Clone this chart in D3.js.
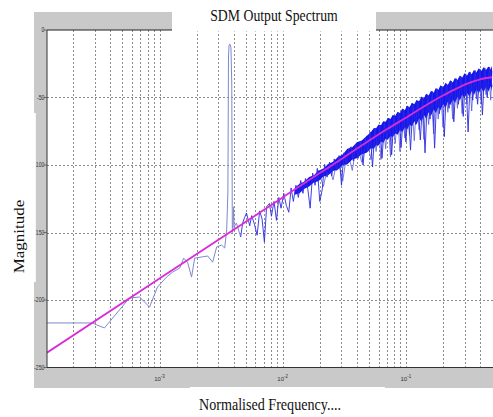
<!DOCTYPE html>
<html><head><meta charset="utf-8">
<script src="https://cdn.jsdelivr.net/npm/d3@7"></script>
<style>body{margin:0;background:#fff}svg{display:block}</style>
</head><body>
<script>
// ---------- data ----------
const yTickValues = [0, -50, -100, -150, -200, -250];
const xDecadeTicks = [1e-3, 1e-2, 1e-1];
const xDecadeExponents = ["-3", "-2", "-1"];

// sparse low-frequency part of the spectrum incl. the signal tone [f, dB]
const spectrumLow = [
  [1.22e-4,-217],[2.85e-4,-217],[3.1e-4,-218.5],[3.57e-4,-220.7],[5.7e-4,-198.5],
  [6.88e-4,-197.8],[8.3e-4,-205.2],[9.63e-4,-190.4],[1.14e-3,-183],[1.28e-3,-179.3],
  [1.46e-3,-176.3],[1.57e-3,-169],[1.69e-3,-172],[1.82e-3,-183],[1.93e-3,-169],
  [2.24e-3,-168],[2.46e-3,-167.4],[2.70e-3,-172],[2.91e-3,-160.7],[3.19e-3,-159.3],
  [3.38e-3,-161.5],[3.51e-3,-148],[3.59e-3,-120],[3.63e-3,-20],[3.67e-3,-11],
  [3.73e-3,-10.5],[3.80e-3,-13],[3.86e-3,-40],[3.90e-3,-150],[3.94e-3,-148],
  [3.99e-3,-131],[4.03e-3,-146],[4.21e-3,-143],[4.56e-3,-153.3]
];

// shaped-noise part of the spectrum [f, dB]
const spectrumNoise = [
  [0.00456,-153.3],[0.00473,-143],[0.0049,-139],[0.00508,-135.6],[0.0054,-145],
  [0.0056,-137.5],[0.0059,-144],[0.0062,-152],[0.0065,-134],[0.0068,-140],
  [0.0071,-157],[0.0074,-131],[0.0078,-128.5],[0.0081,-138],[0.0085,-127],
  [0.0089,-141],[0.0093,-124],[0.0097,-132],
  [0.0102,-121],[0.0107,-130],[0.0112,-135],[0.0117,-117],[0.0122,-127],
  [0.0128,-115],[0.0134,-124],[0.014,-111.5],[0.0146,-121],[0.0153,-110],
  [0.016,-118],[0.0167,-132],[0.0175,-106],[0.0183,-115],[0.0191,-102.5],
  [0.02,-127],[0.0209,-118.5],[0.0219,-99.5],[0.0229,-109],[0.024,-97.8],
  [0.025,-108],[0.0262,-95.5],[0.0274,-104],[0.0287,-93],[0.03,-115],
  [0.0314,-91],[0.0328,-99.5],[0.0343,-88.5],[0.0359,-86.5],[0.0375,-97],
  [0.0392,-84.5],[0.041,-95],[0.0429,-82.5],[0.0449,-100],[0.047,-80],[0.049,-90],
  [0.0513,-75.5],[0.0536,-101.5],[0.056,-73],[0.0586,-86],[0.0613,-71],
  [0.064,-95],[0.067,-69],[0.07,-81],[0.0733,-66.5],[0.0766,-92.5],[0.08,-64.5],
  [0.0837,-77],[0.0875,-61.5],[0.0915,-87],[0.0957,-59],[0.1,-83],
  [0.1046,-57],[0.109,-89],[0.114,-55.5],[0.12,-70],[0.125,-53],[0.131,-81.5],
  [0.137,-51],[0.143,-91],[0.15,-48],[0.157,-66],[0.164,-45.5],[0.171,-87.5],
  [0.179,-43.5],[0.187,-62],[0.196,-41.5],[0.205,-79],[0.214,-40],[0.224,-58],
  [0.234,-38],[0.245,-68],[0.256,-36],[0.267,-55],[0.28,-34.5],[0.292,-64],
  [0.306,-32.5],[0.32,-75.5],[0.334,-31.5],[0.349,-52],[0.365,-30],[0.382,-55],
  [0.4,-29],[0.418,-63],[0.437,-28],[0.457,-50],[0.478,-27.5],[0.5,-42]
];

// second interleaved set of noise spikes [f, dB]
const spectrumNoise2 = [
  [0.0195,-104],[0.0214,-116],[0.0234,-99.5],[0.0256,-111],[0.028,-94.5],
  [0.0307,-112],[0.0335,-89],[0.0367,-104],[0.04,-84],[0.0438,-98],
  [0.048,-78.5],[0.052,-96],[0.055,-73.5],[0.0573,-90],[0.06,-71],
  [0.0627,-96],[0.0655,-68.5],[0.0685,-88],[0.0716,-66],[0.075,-94],
  [0.078,-64],[0.082,-84],[0.0856,-61.5],[0.0895,-90],[0.0936,-59],
  [0.098,-80],[0.102,-57],[0.107,-78],[0.112,-54.5],[0.117,-82],
  [0.122,-52.5],[0.128,-74],[0.134,-50],[0.14,-81],[0.146,-48],
  [0.153,-70],[0.16,-46],[0.168,-77],[0.175,-44],[0.183,-66],
  [0.191,-42],[0.2,-72],[0.21,-40],[0.219,-61],[0.229,-38.5],
  [0.24,-66],[0.25,-36.5],[0.262,-58],[0.274,-35],[0.286,-62],
  [0.299,-33],[0.313,-55],[0.327,-31.5],[0.342,-60],[0.357,-30.5],
  [0.373,-51],[0.39,-29.5],[0.409,-55],[0.427,-28.5],[0.447,-48],
  [0.467,-28],[0.488,-52],[0.5,-30]
];

// dense core of the noise band [f, upper dB, lower dB]
const noiseBand = [
  [0.0125,-117,-122],[0.0137,-113.8,-121],[0.015,-112.2,-117.5],[0.0164,-108.8,-116],
  [0.0179,-107.5,-113],[0.0195,-104.2,-112],[0.0214,-102.5,-108.5],[0.0234,-99.3,-107.5],
  [0.0256,-97.5,-104.5],[0.028,-94.2,-103.5],[0.0307,-92.2,-100],[0.0335,-88,-99.5],
  [0.0367,-86.8,-96],[0.04,-83.2,-95],[0.0438,-81.8,-92],[0.048,-78.5,-91],
  [0.052,-75.5,-87.5],[0.055,-72.5,-88],[0.0573,-72.8,-85],[0.06,-70,-85.5],
  [0.0627,-70.5,-82.5],[0.0655,-67.5,-83.5],[0.0685,-68,-80.5],[0.0716,-65,-81],
  [0.075,-66,-78.5],[0.078,-63,-79.5],[0.082,-63.5,-76.5],[0.0856,-60.5,-77.5],
  [0.0895,-61.5,-74],[0.0936,-58.2,-75.5],[0.098,-59.5,-72],[0.102,-56,-74],
  [0.107,-57.3,-70],[0.112,-53.8,-71.5],[0.117,-55,-67.5],[0.122,-51.8,-70],
  [0.128,-52.8,-65.5],[0.134,-49.3,-67.8],[0.14,-50.7,-63],[0.146,-47.2,-65.5],
  [0.153,-48.6,-61],[0.16,-45,-63.5],[0.168,-46.4,-58.9],[0.175,-43,-61.5],
  [0.183,-44.5,-57],[0.191,-41,-59.5],[0.2,-42.5,-55],[0.21,-39,-57.5],
  [0.219,-40.7,-53.2],[0.229,-37.3,-55.8],[0.24,-38.8,-51.3],[0.25,-35.5,-54],
  [0.262,-37.1,-49.6],[0.274,-33.7,-52.2],[0.286,-35.4,-47.9],[0.299,-32.1,-50.6],
  [0.313,-33.9,-46.4],[0.327,-30.8,-49.3],[0.342,-32.7,-45.2],[0.357,-29.6,-48.1],
  [0.373,-31.5,-44],[0.39,-28.4,-46.9],[0.409,-30.3,-42.9],[0.427,-27.6,-46.1],
  [0.447,-29.7,-42.3],[0.467,-27,-45.5],[0.488,-29.2,-41.7],[0.5,-26.5,-45]
];

// theoretical noise transfer curve (magenta) [f, dB]
const ntfCurve = [
  [1.22e-4,-239],[1e-3,-184],[0.01,-124],[0.02,-106],[0.03,-95.5],[0.05,-82],
  [0.07,-73.5],[0.1,-65],[0.15,-55],[0.2,-48.5],[0.25,-44],[0.3,-40.5],
  [0.4,-36.5],[0.5,-35]
];

// ---------- drawing ----------
const W = 493, H = 417;
const L = 47, R = 492, T = 30, B = 367.5;
const x = d3.scaleLog().domain([1/8192, 0.5]).range([L, R]);
const y = d3.scaleLinear().domain([-250, 0]).range([B, T]);

const svg = d3.select("body").append("svg").attr("width", W).attr("height", H);
svg.append("rect").attr("width", W).attr("height", H).attr("fill", "#fff");
svg.append("rect").attr("x", 34).attr("y", 12).attr("width", W - 34).attr("height", 376).attr("fill", "#c9c9c9");
svg.append("rect").attr("x", L).attr("y", T).attr("width", W - L).attr("height", B - T).attr("fill", "#fff");

svg.append("clipPath").attr("id", "plot").append("rect")
  .attr("x", L).attr("y", T).attr("width", W - L).attr("height", B - T);
const g = svg.append("g").attr("clip-path", "url(#plot)");

// grid
const gridStyle = sel => sel.attr("stroke", "#6e6e6e").attr("stroke-width", 0.8).attr("stroke-dasharray", "2,2");
g.selectAll(".vg").data(x.ticks().filter(f => f < 0.49)).enter().append("line")
  .attr("x1", d => Math.round(x(d)) + 0.5).attr("x2", d => Math.round(x(d)) + 0.5)
  .attr("y1", T).attr("y2", B).call(gridStyle);
g.selectAll(".hg").data(yTickValues.filter(v => v < 0 && v > -250)).enter().append("line")
  .attr("x1", L).attr("x2", W).attr("y1", d => Math.round(y(d)) + 0.5).attr("y2", d => Math.round(y(d)) + 0.5)
  .call(gridStyle);

// spectrum
const line = d3.line().x(d => x(d[0])).y(d => y(d[1]));
g.append("path").datum(spectrumLow).attr("d", line)
  .attr("fill", "none").attr("stroke", "#7d89cc").attr("stroke-width", 1);
g.append("path").datum(spectrumNoise2).attr("d", line)
  .attr("fill", "none").attr("stroke", "#5a5ad8").attr("stroke-width", 0.8);
g.append("path").datum(noiseBand)
  .attr("d", d3.area().x(d => x(d[0])).y0(d => y(d[2])).y1(d => y(d[1])))
  .attr("fill", "#1616ec");
g.append("path").datum(spectrumNoise).attr("d", line)
  .attr("fill", "none").attr("stroke", "#2a2ae4").attr("stroke-width", 0.9);

// NTF curve
g.append("path").datum(ntfCurve)
  .attr("d", d3.line().x(d => x(d[0])).y(d => y(d[1])).curve(d3.curveMonotoneX))
  .attr("fill", "none").attr("stroke", "#d92cd9").attr("stroke-width", 1.8);

// axis lines
svg.append("line").attr("x1", L).attr("x2", W).attr("y1", T).attr("y2", T).attr("stroke", "#222").attr("stroke-width", 1.2);
svg.append("line").attr("x1", L).attr("x2", W).attr("y1", B).attr("y2", B).attr("stroke", "#333").attr("stroke-width", 1);
svg.append("line").attr("x1", L).attr("x2", L).attr("y1", T).attr("y2", B).attr("stroke", "#333").attr("stroke-width", 1);

// y tick marks and labels
svg.selectAll(".yt").data(yTickValues).enter().append("line")
  .attr("x1", L - 3.5).attr("x2", L).attr("y1", d => y(d)).attr("y2", d => y(d))
  .attr("stroke", "#555").attr("stroke-width", 0.8);
svg.selectAll(".yl").data(yTickValues).enter().append("text")
  .attr("transform", d => `translate(44.5,${y(d)}) scale(0.8,1)`)
  .attr("text-anchor", "end").attr("dy", "0.35em")
  .attr("font-family", "Liberation Sans, Arial, sans-serif").attr("font-size", 6.5)
  .attr("fill", "#333").text(d => d);

// x tick labels (10^k)
xDecadeTicks.forEach((d, i) => {
  const t = svg.append("text").attr("x", x(d)).attr("y", 381)
    .attr("text-anchor", "middle").attr("font-family", "Liberation Sans, Arial, sans-serif")
    .attr("font-size", 6).attr("fill", "#333");
  t.append("tspan").text("10");
  t.append("tspan").attr("dy", -3).attr("font-size", 4.5).text(xDecadeExponents[i]);
});

// white label boxes
svg.append("rect").attr("x", 172).attr("y", 0).attr("width", 204).attr("height", 31.5).attr("fill", "#fff");
svg.append("rect").attr("x", 190).attr("y", 387).attr("width", 195).attr("height", 30).attr("fill", "#fff");
svg.append("rect").attr("x", 0).attr("y", 113).attr("width", 35.8).attr("height", 169).attr("fill", "#fff");

const serif = "Liberation Serif, 'Times New Roman', serif";
svg.append("text").attr("transform", "translate(274,21) scale(0.86,1)")
  .attr("text-anchor", "middle").attr("font-family", serif).attr("font-size", 16)
  .attr("fill", "#111").text("SDM Output Spectrum");
svg.append("text").attr("transform", "translate(270,410) scale(0.83,1)")
  .attr("text-anchor", "middle").attr("font-family", serif).attr("font-size", 17)
  .attr("fill", "#111").text("Normalised Frequency....");
svg.append("text").attr("transform", "translate(24,236.5) scale(0.8,1) rotate(-90)")
  .attr("text-anchor", "middle").attr("font-family", serif).attr("font-size", 17)
  .attr("fill", "#111").text("Magnitude");
</script>
</body></html>
